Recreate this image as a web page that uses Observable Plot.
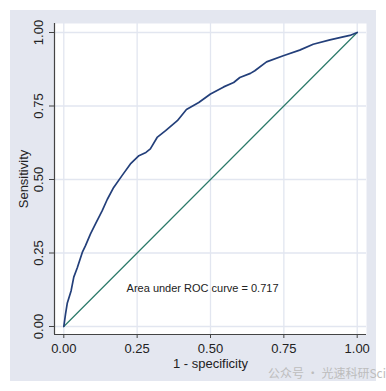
<!DOCTYPE html>
<html><head><meta charset="utf-8">
<script src="https://cdn.jsdelivr.net/npm/d3@7"></script>
<script src="https://cdn.jsdelivr.net/npm/@observablehq/plot@0.6"></script>
<style>
body{margin:0;background:#fff;}
#wrap{position:relative;width:386px;height:391px;font-family:"Liberation Sans",Arial,sans-serif;overflow:hidden;}
#bg{position:absolute;left:10px;top:10px;width:366px;height:371px;background:#e4e7f0;}
#chart{position:absolute;left:0;top:0;}
#wm{position:absolute;left:268px;top:366px;font-size:12px;line-height:14px;color:#bdbdbd;white-space:nowrap;font-family:"Noto Sans CJK SC",sans-serif;}
</style></head>
<body><div id="wrap"><div id="bg"></div><div id="chart"></div><div id="wm">公众号 · 光速科研Sci</div></div>
<script>
const fpr = [0, 0.006, 0.012, 0.025, 0.034, 0.046, 0.063, 0.074, 0.091, 0.108, 0.131, 0.148, 0.17, 0.199, 0.227, 0.256, 0.28, 0.295, 0.318, 0.347, 0.387, 0.418, 0.46, 0.50, 0.545, 0.579, 0.60, 0.636, 0.651, 0.691, 0.748, 0.804, 0.85, 0.907, 0.952, 0.975, 1];
const tpr = [0, 0.043, 0.08, 0.122, 0.168, 0.20, 0.252, 0.275, 0.315, 0.349, 0.394, 0.432, 0.473, 0.514, 0.553, 0.581, 0.592, 0.604, 0.643, 0.666, 0.70, 0.738, 0.762, 0.791, 0.815, 0.83, 0.847, 0.861, 0.87, 0.90, 0.921, 0.94, 0.96, 0.975, 0.985, 0.99, 1];
const refX = [0, 1];
const refY = [0, 1];
const ticks = [0, 0.25, 0.5, 0.75, 1];
const tickLabels = ["0.00", "0.25", "0.50", "0.75", "1.00"];
const xLabel = "1 - specificity";
const yLabel = "Sensitivity";
const aucText = "Area under ROC curve = 0.717";
const aucPos = {x: 0.214, y: 0.128};

const roc = fpr.map((x, i) => ({x, y: tpr[i]}));
const ref = refX.map((x, i) => ({x, y: refY[i]}));

const plot = Plot.plot({
  width: 386, height: 391,
  marginLeft: 54, marginRight: 20, marginTop: 23, marginBottom: 57,
  style: {background: "transparent", fontFamily: "Liberation Sans, Arial, sans-serif", fontSize: "13px", color: "#222", overflow: "visible"},
  x: {domain: [0, 1], insetLeft: 9.3, insetRight: 9.3},
  y: {domain: [0, 1], insetTop: 9, insetBottom: 8},
  marks: [
    Plot.frame({fill: "white", stroke: null}),
    Plot.gridX(ticks, {stroke: "#e2e6f0", strokeOpacity: 1, strokeWidth: 1.3}),
    Plot.gridY(ticks, {stroke: "#e2e6f0", strokeOpacity: 1, strokeWidth: 1.3}),
    Plot.ruleX([0], {dx: -9.3, stroke: "#444", strokeWidth: 1.2}),
    Plot.ruleY([0], {dy: 8, stroke: "#444", strokeWidth: 1.2}),
    Plot.axisX(ticks, {tickSize: 4, tickPadding: 5, tickFormat: (d, i) => tickLabels[i], label: null, fontSize: 13, stroke: "#444"}),
    Plot.axisY(ticks, {tickSize: 5, tickFormat: () => "", label: null, stroke: "#444"}),
    Plot.text(ticks, {y: d => d, text: (d, i) => tickLabels[i], frameAnchor: "left", dx: -16, rotate: -90, textAnchor: "middle", fontSize: 13, fill: "#222"}),
    Plot.text([xLabel], {text: d => d, frameAnchor: "bottom", dy: 29.5, lineAnchor: "middle", fontSize: 13, fill: "#222"}),
    Plot.text([yLabel], {text: d => d, frameAnchor: "left", dx: -31, rotate: -90, textAnchor: "middle", fontSize: 13, fill: "#222"}),
    Plot.line(ref, {x: "x", y: "y", stroke: "#2b7a69", strokeWidth: 1.2}),
    Plot.line(roc, {x: "x", y: "y", stroke: "#233f7a", strokeWidth: 1.7}),
    Plot.text([aucText], {x: () => aucPos.x, y: () => aucPos.y, text: d => d, textAnchor: "start", fontSize: 11, fill: "#222"})
  ]
});
document.getElementById("chart").appendChild(plot);
</script>
</body></html>
